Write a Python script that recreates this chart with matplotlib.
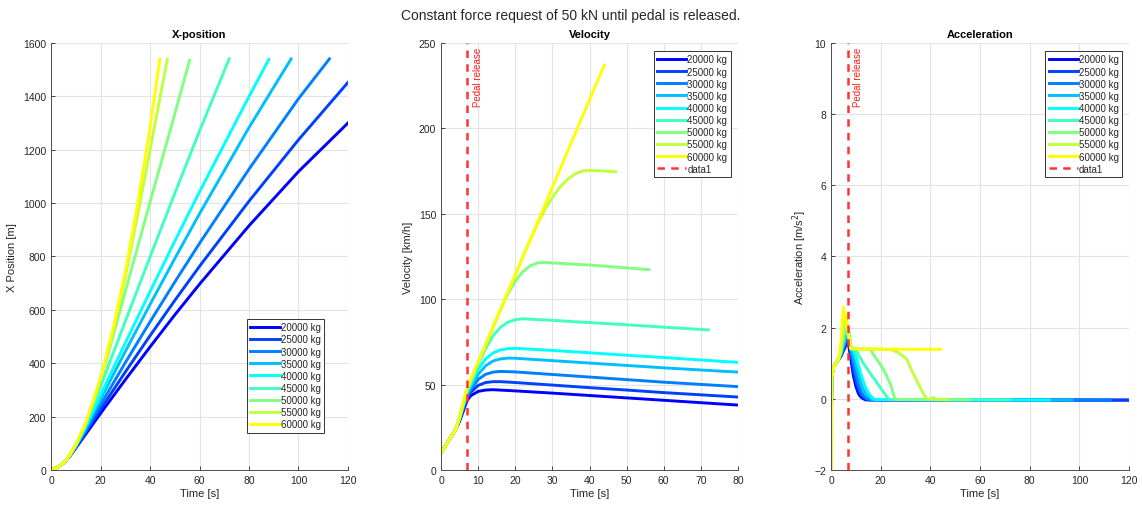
import matplotlib
matplotlib.use("Agg")
import matplotlib.pyplot as plt

plt.rcParams['font.family'] = ['Liberation Sans', 'DejaVu Sans']

# vehicle masses and line colours (jet, blue -> yellow)
masses = [20000, 25000, 30000, 35000, 40000, 45000, 50000, 55000, 60000]
colors = ['#0000ff', '#0040ff', '#0080ff', '#00bfff', '#00ffff',
          '#40ffbf', '#80ff80', '#bfff40', '#ffff00']
labels = [f"{m} kg" for m in masses]

pedal_release_time = 7.0

# X-position [m] over time [s]
pos_time = [
    [0, 2, 4, 5, 6, 7, 8, 10, 12, 14, 20, 30, 40, 50, 60, 80, 100, 120],
    [0, 2, 4, 5, 6, 7, 8, 10, 12, 14, 20, 30, 40, 50, 60, 80, 100, 120],
    [0, 2, 4, 5, 6, 7, 8, 10, 12, 14, 20, 30, 40, 50, 60, 80, 100, 112.5],
    [0, 2, 4, 5, 6, 7, 8, 10, 12, 14, 20, 30, 40, 50, 60, 80, 97],
    [0, 2, 4, 5, 6, 7, 8, 10, 12, 14, 20, 30, 40, 50, 60, 80, 88],
    [0, 2, 4, 5, 6, 7, 8, 10, 12, 14, 16, 18, 20, 22, 30, 40, 50, 60, 72],
    [0, 2, 4, 5, 6, 7, 8, 10, 12, 14, 16, 18, 20, 22, 24, 26, 28, 30, 40, 50, 56],
    [0, 2, 4, 5, 6, 7, 8, 10, 14, 18, 22, 24, 26, 28, 30, 32, 34, 36, 38, 40, 44, 47],
    [0, 2, 4, 5, 6, 7, 8, 10, 14, 20, 25, 30, 35, 40, 44],
]
pos_value = [
    [0, 7.5, 19, 26, 35, 45, 57, 82, 108, 134, 212, 338, 461, 581, 696, 915, 1118, 1300],
    [0, 7.5, 19, 26, 35, 46, 58, 84, 112, 141, 227, 367, 503, 635, 763, 1007, 1237, 1452],
    [0, 7.5, 19, 26, 35.5, 46.5, 59, 87, 117, 149, 244, 402, 555, 704, 849, 1127, 1391, 1540],
    [0, 7.5, 19, 26.4, 36, 47, 60, 89, 122, 156, 265, 444, 620, 792, 960, 1283, 1540],
    [0, 7.5, 19, 26.4, 36, 47.4, 61, 91, 125, 162.5, 280, 476, 668, 857, 1042, 1399, 1538],
    [0, 7.5, 19, 26.5, 36, 48, 61.5, 93, 130, 171.5, 216.5, 264, 312, 361, 557, 798, 1036, 1270, 1540],
    [0, 7.5, 19, 26.5, 36, 48, 62, 94, 131, 175, 224, 279, 338, 401, 466, 533, 600, 668, 1003, 1334, 1535],
    [0, 7.5, 19, 26.5, 36.3, 48.4, 62.3, 94.5, 176, 280, 407, 479, 556, 639, 725, 816, 909, 1004, 1101, 1198, 1393, 1539],
    [0, 7.5, 19, 26.5, 36.3, 48.4, 62.4, 94.6, 176, 343, 525, 741, 995, 1282, 1540],
]

# velocity [km/h]
vel_time = [
    [0, 1, 2, 3, 4, 5, 6, 7, 8, 10, 12, 14, 20, 30, 40, 50, 60, 80, 100, 120],
    [0, 1, 2, 3, 4, 5, 6, 7, 8, 10, 12, 14, 16, 20, 30, 40, 50, 60, 80, 100, 120],
    [0, 1, 2, 3, 4, 5, 6, 7, 8, 10, 12, 14, 16, 20, 30, 40, 50, 60, 80, 100, 112.5],
    [0, 1, 2, 3, 4, 5, 6, 7, 8, 10, 12, 14, 16, 18, 20, 30, 40, 50, 60, 80, 97],
    [0, 1, 2, 3, 4, 5, 6, 7, 8, 10, 12, 14, 16, 18, 20, 30, 40, 50, 60, 80, 88],
    [0, 1, 2, 3, 4, 5, 6, 7, 8, 10, 12, 14, 16, 18, 20, 22, 30, 40, 50, 60, 72],
    [0, 1, 2, 3, 4, 5, 6, 7, 8, 10, 12, 14, 16, 17, 18, 20, 22, 24, 26, 28, 30, 40, 50, 56],
    [0, 1, 2, 3, 4, 5, 6, 7, 8, 10, 14, 18, 22, 24, 26, 28, 30, 32, 34, 36, 38, 40, 44, 47],
    [0, 1, 2, 3, 4, 5, 6, 7, 8, 10, 14, 20, 30, 40, 44],
]
vel_value = [
    [10, 13.5, 17, 20.5, 24, 28.5, 34.5, 40.5, 43.5, 46, 46.8, 47, 46.3, 45, 43.6, 42.2, 40.8, 38, 35.3, 32.6],
    [10, 13.5, 17, 20.5, 24, 29, 35.5, 42, 45.5, 49.5, 51.2, 51.7, 51.7, 51.2, 49.7, 48.2, 46.8, 45.3, 42.7, 40, 37.4],
    [10, 13.5, 17, 20.5, 24, 29.5, 36.5, 43, 47, 53, 56, 57.3, 57.7, 57.4, 55.9, 54.4, 52.9, 51.4, 48.8, 46.2, 44.6],
    [10, 13.5, 17, 20.5, 24, 30, 37.5, 44.5, 48.5, 56, 61, 63.8, 65, 65.5, 65.4, 64, 62.6, 61.2, 59.8, 57.3, 55],
    [10, 13.5, 17, 20.5, 24, 30, 38, 45.5, 50, 59, 65, 68.5, 70.3, 71, 71.2, 70, 68.6, 67.2, 65.8, 63, 62],
    [10, 13.5, 17, 20.5, 24, 30.5, 38.5, 46.5, 51.5, 62, 71, 78.5, 83.5, 86.5, 88, 88.5, 87.6, 86.3, 85, 83.6, 82],
    [10, 13.5, 17, 20.5, 24, 30.5, 39, 47, 52, 62.5, 73, 83.5, 93.5, 98.5, 103, 110.5, 116, 119.5, 121.2, 121.5, 121.2, 120, 118.3, 117.3],
    [10, 13.5, 17, 20.5, 24, 31, 39.5, 47.5, 52.8, 63, 83.5, 104, 124.5, 134.5, 144, 152.5, 159.5, 165.5, 170, 173.2, 175, 175.4, 175, 174.6],
    [10, 13.5, 17, 20.5, 24, 31, 39.5, 47.8, 52.9, 63.1, 83.6, 114.3, 165.5, 216.7, 237],
]

# acceleration [m/s^2]
acc_time = [
    [0, 0.3, 1, 2, 3, 4, 5, 6, 7, 8, 9, 10, 11, 12, 13, 14, 120],
    [0, 0.3, 1, 2, 3, 4, 5, 6, 7, 8, 9, 10, 11, 12, 13, 14, 15, 120],
    [0, 0.3, 1, 2, 3, 4, 5, 6, 7, 8, 9, 10, 11, 12, 13, 14, 15.5, 112.5],
    [0, 0.3, 1, 2, 3, 4, 5, 6, 7, 8, 9, 10, 11, 12, 13, 14, 15, 16.5, 97],
    [0, 0.3, 1, 2, 3, 4, 5, 6, 7, 8, 9, 10, 11, 12, 13, 14, 15, 16, 17.5, 88],
    [0, 0.3, 1, 2, 3, 4, 5, 6, 7, 8, 10, 11, 13, 15, 17, 19, 21, 22.5, 23.5, 72],
    [0, 0.3, 1, 2, 3, 4, 5, 6, 7, 8, 16, 17, 18.5, 20, 22, 24, 25.5, 26, 56],
    [0, 0.3, 1, 2, 3, 4, 5, 6, 7, 8, 24.5, 27, 30.5, 32.5, 34.5, 37.2, 38.5, 40, 41.2, 42.5, 47],
    [0, 0.3, 1, 2, 3, 4, 5, 6, 7, 8, 44],
]
acc_value = [
    [-2, 0.6, 0.9, 1.0, 1.1, 1.2, 1.35, 1.5, 1.55, 1.1, 0.65, 0.35, 0.15, 0.05, 0.0, -0.03, -0.036],
    [-2, 0.6, 0.9, 1.0, 1.1, 1.2, 1.4, 1.55, 1.65, 1.25, 0.85, 0.5, 0.27, 0.12, 0.04, 0.0, -0.03, -0.036],
    [-2, 0.6, 0.9, 1.0, 1.1, 1.25, 1.45, 1.65, 1.75, 1.35, 1.0, 0.7, 0.42, 0.22, 0.1, 0.03, -0.03, -0.036],
    [-2, 0.6, 0.9, 1.0, 1.1, 1.25, 1.5, 1.75, 1.85, 1.45, 1.2, 0.95, 0.68, 0.45, 0.27, 0.14, 0.06, -0.02, -0.035],
    [-2, 0.6, 0.9, 1.0, 1.1, 1.3, 1.6, 1.9, 1.95, 1.45, 1.38, 1.2, 0.95, 0.7, 0.48, 0.3, 0.17, 0.08, -0.02, -0.035],
    [-2, 0.6, 0.9, 1.0, 1.1, 1.3, 1.7, 2.05, 1.9, 1.42, 1.38, 1.25, 1.0, 0.8, 0.6, 0.4, 0.2, 0.05, -0.02, -0.03],
    [-2, 0.6, 0.9, 1.0, 1.1, 1.35, 1.85, 2.2, 1.9, 1.42, 1.38, 1.25, 1.1, 0.95, 0.7, 0.4, 0.05, -0.02, -0.03],
    [-2, 0.6, 0.9, 1.0, 1.1, 1.4, 2.1, 2.35, 1.85, 1.42, 1.38, 1.3, 1.12, 0.79, 0.51, 0.14, 0.0, -0.01, 0.04, -0.02, -0.02],
    [-2, 0.6, 0.9, 1.0, 1.1, 1.6, 2.57, 2.2, 1.75, 1.4, 1.39],
]

text_col = '#262626'
grid_col = '#e3e3e3'


def style_axes(ax, title, xlabel, ylabel):
    ax.set_title(title, fontsize=8, fontweight='bold', color='black', pad=4)
    ax.set_xlabel(xlabel, fontsize=8, color=text_col, labelpad=2)
    ax.set_ylabel(ylabel, fontsize=8, color=text_col, labelpad=4)
    ax.grid(True, color=grid_col, linewidth=0.8)
    ax.set_axisbelow(True)
    ax.tick_params(direction='in', labelsize=7.5, colors=text_col, length=3, width=0.6)
    for side in ['top', 'right']:
        ax.spines[side].set_visible(False)
    for side in ['left', 'bottom']:
        ax.spines[side].set_color('#4d4d4d')
        ax.spines[side].set_linewidth(0.7)


def add_legend(ax, loc, anchor):
    leg = ax.legend(loc=loc, bbox_to_anchor=anchor, borderaxespad=0, fontsize=7,
                    handlelength=3.0, handletextpad=0.1, labelspacing=0.22,
                    borderpad=0.35, fancybox=False, framealpha=1)
    leg.get_frame().set_edgecolor('#333333')
    leg.get_frame().set_linewidth(0.7)
    for t in leg.get_texts():
        t.set_color(text_col)


fig = plt.figure(figsize=(11.42, 5.06), dpi=100)
fig.suptitle("Constant force request of 50 kN until pedal is released.",
             fontsize=10, color=text_col, y=0.982)

ax1 = fig.add_axes([0.0447, 0.0692, 0.260, 0.844])
ax2 = fig.add_axes([0.3862, 0.0692, 0.260, 0.844])
ax3 = fig.add_axes([0.7277, 0.0692, 0.261, 0.844])

# X-position
for i in range(len(masses)):
    ax1.plot(pos_time[i], pos_value[i], color=colors[i], lw=2.1, label=labels[i])
ax1.set_xlim(0, 120)
ax1.set_ylim(0, 1600)
ax1.set_xticks(range(0, 121, 20))
ax1.set_yticks(range(0, 1601, 200))
style_axes(ax1, "X-position", "Time [s]", "X Position [m]")
add_legend(ax1, 'lower right', (0.919, 0.087))

# Velocity
for i in range(len(masses)):
    ax2.plot(vel_time[i], vel_value[i], color=colors[i], lw=2.1, label=labels[i])
ax2.axvline(pedal_release_time, color='#ff3333', lw=1.8, ls=(0, (3, 2.5)), label='data1')
ax2.text(pedal_release_time + 1.6, 248, "Pedal release", rotation=90, color='#ff2020',
         fontsize=7, ha='left', va='top')
ax2.set_xlim(0, 80)
ax2.set_ylim(0, 250)
ax2.set_xticks(range(0, 81, 10))
ax2.set_yticks(range(0, 251, 50))
style_axes(ax2, "Velocity", "Time [s]", "Velocity [km/h]")
add_legend(ax2, 'upper right', (0.976, 0.981))

# Acceleration
for i in range(len(masses)):
    ax3.plot(acc_time[i], acc_value[i], color=colors[i], lw=2.1, label=labels[i])
ax3.axvline(pedal_release_time, color='#ff3333', lw=1.8, ls=(0, (3, 2.5)), label='data1')
ax3.text(pedal_release_time + 1.9, 9.9, "Pedal release", rotation=90, color='#ff2020',
         fontsize=7, ha='left', va='top')
ax3.set_xlim(0, 120)
ax3.set_ylim(-2, 10)
ax3.set_xticks(range(0, 121, 20))
ax3.set_yticks(range(-2, 11, 2))
style_axes(ax3, "Acceleration", "Time [s]", "Acceleration [m/s$^2$]")
add_legend(ax3, 'upper right', (0.977, 0.981))

fig.savefig("out.png", dpi=100)
